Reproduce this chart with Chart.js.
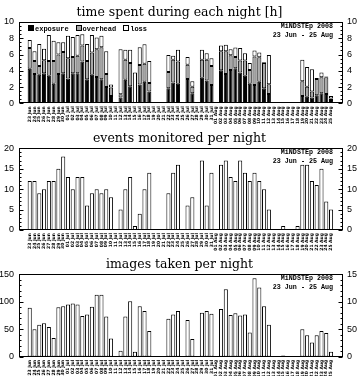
<!DOCTYPE html>
<html><head><meta charset="utf-8">
<script src="https://cdn.jsdelivr.net/npm/chart.js@4.4.1/dist/chart.umd.min.js"></script>
<style>
html,body{margin:0;padding:0;background:#fff;width:359px;height:376px;overflow:hidden}
.p{position:absolute;left:0;width:359px}
canvas{display:block}
</style></head><body>
<div class="p" style="top:0"><canvas id="c1" width="359" height="125"></canvas></div>
<div class="p" style="top:125px"><canvas id="c2" width="359" height="126"></canvas></div>
<div class="p" style="top:251px"><canvas id="c3" width="359" height="125"></canvas></div>
<script>
// ---- data ----
const nights = ["23 Jun","24 Jun","25 Jun","26 Jun","27 Jun","28 Jun","29 Jun","30 Jun",
"01 Jul","02 Jul","03 Jul","04 Jul","05 Jul","06 Jul","07 Jul","08 Jul","09 Jul","10 Jul","11 Jul","12 Jul",
"13 Jul","14 Jul","15 Jul","16 Jul","17 Jul","18 Jul","19 Jul","20 Jul","21 Jul","22 Jul","23 Jul","24 Jul",
"25 Jul","26 Jul","27 Jul","28 Jul","29 Jul","30 Jul","31 Jul",
"01 Aug","02 Aug","03 Aug","04 Aug","05 Aug","06 Aug","07 Aug","08 Aug","09 Aug","10 Aug","11 Aug","12 Aug",
"13 Aug","14 Aug","15 Aug","16 Aug","17 Aug","18 Aug","19 Aug","20 Aug","21 Aug","22 Aug","23 Aug","24 Aug","25 Aug"];

const exposureHours = [4.25,3.6,3.5,3.7,3.4,2.4,3.6,3.7,3.05,3.7,3.7,5.15,2.95,3.5,3.25,2.95,2.0,0.9,0,0.7,
2.9,2.1,0,2.3,2.65,1.45,0,0,0,1.85,2.55,2.4,0,3.0,1.25,0,3.15,2.8,2.25,0,
4.05,3.6,4.1,4.3,3.8,3.4,2.4,2.25,2.65,1.85,1.15,0,0,0.1,0,0,0,0.9,0.8,0.7,1.0,1.25,1.15,0.4];
const overheadHours = [2.55,1.6,1.1,1.6,1.8,2.8,2.4,2.6,2.5,2.0,2.15,1.95,2.25,2.75,3.4,3.95,1.6,1.05,0,0.4,
2.45,2.85,0,2.4,2.2,1.05,0,0,0,2.0,2.8,2.75,0,1.75,0.8,0,2.2,2.55,2.35,0,
2.35,2.8,1.8,1.4,1.45,1.85,1.7,3.5,3.0,3.1,1.2,0,0,0,0,0,0,1.8,1.25,0.75,2.0,1.95,2.05,0.2];
const lossHours = [1.0,1.2,2.7,1.4,3.2,2.5,1.5,1.2,2.75,2.45,2.55,1.4,2.1,2.15,1.45,1.4,2.8,0.35,0,5.55,
1.25,1.65,3.8,2.2,2.4,2.7,0,0,0,2.1,0.5,1.45,0,0.95,0.65,0,1.25,0.8,0.95,0,
0.7,0.8,0.75,1.15,1.55,0.9,0.85,0.75,0.6,0.1,3.6,0,0,0,0,0,0,2.65,2.4,2.75,0.1,0.6,0.1,0.3];
const eventsMonitored = [12,12,9,10,12,12,15,18,13,10,13,13,6,9,10,9,10,8,0,5,
10,13,1,4,10,14,0,0,0,9,14,16,0,6,8,0,17,6,14,0,
16,17,13,12,17,14,12,14,12,10,5,0,0,1,0,0,1,16,16,12,11,15,7,5];
const imagesTaken = [89,50,58,61,54,34,90,92,95,97,95,74,77,91,113,113,73,33,0,11,
73,101,9,92,83,47,0,0,0,69,77,83,0,67,32,0,80,83,78,0,
87,123,76,79,75,77,44,143,126,92,58,0,0,2,0,0,1,50,39,26,39,47,43,9];

const seriesNames = ["exposure","overhead","loss"];
const panelTitles = ["time spent during each night [h]","events monitored per night","images taken per night"];
const noteLines = ["MiNDSTEp 2008","23 Jun - 25 Aug"];

// ---- helpers ----
const XMIN = -2.24, XMAX = 65.5;
const pts = arr => arr.map((v,i)=>({x:i,y:v}));

const framePlugin = {
  id:'frame',
  afterDraw(chart){
    const {ctx, chartArea:a} = chart;
    const o = chart.options.plugins.frame;
    ctx.save();
    ctx.strokeStyle = '#000'; ctx.lineWidth = 1;
    const L = Math.round(a.left)+0.5, R = Math.round(a.right)-0.5, T = Math.round(a.top)+0.5, B = Math.round(a.bottom)-0.5;
    ctx.strokeRect(L, T, R-L, B-T);
    const ys = chart.scales.y;
    ctx.beginPath();
    for (let v = 0; v <= o.ymax + 1e-9; v += o.minor) {
      const isMajor = Math.abs(v/o.major - Math.round(v/o.major)) < 1e-6;
      const len = isMajor ? 4 : 2;
      const py = Math.round(ys.getPixelForValue(v)) + 0.5;
      ctx.moveTo(L, py); ctx.lineTo(L+len, py);
      ctx.moveTo(R, py); ctx.lineTo(R-len, py);
    }
    ctx.stroke();
    ctx.fillStyle = '#000';
    ctx.font = 'bold 6.7px "Liberation Mono"';
    ctx.textAlign = 'right'; ctx.textBaseline = 'alphabetic';
    ctx.fillText(noteLines[0], a.right - 10, a.top + 5.5);
    ctx.fillText(noteLines[1], a.right - 10, a.top + 14.5);
    if (o.legend) {
      ctx.textAlign = 'left';
      ctx.font = 'bold 7px "Liberation Mono"';
      let x = a.left + 9;
      chart.data.datasets.forEach(ds => {
        ctx.fillStyle = ds.backgroundColor;
        ctx.fillRect(Math.round(x)+0.5, Math.round(a.top)+3.5, 5, 5);
        ctx.strokeRect(Math.round(x)+0.5, Math.round(a.top)+3.5, 5, 5);
        ctx.fillStyle = '#000';
        ctx.fillText(ds.label, x + 7, a.top + 8.5);
        x += 7 + ctx.measureText(ds.label).width + 7;
      });
    }
    ctx.restore();
  }
};

function makeChart(id, datasets, o) {
  const tickFont = {family:'Liberation Sans', size:9};
  const tSize = 12.5;
  const noGrid = {display:false, drawTicks:false, tickLength:0};
  return new Chart(document.getElementById(id), {
    type:'bar',
    data:{datasets},
    options:{
      responsive:false, animation:false, events:[],
      layout:{padding:0},
      datasets:{bar:{categoryPercentage:1, barPercentage:0.86, borderWidth:1, borderColor:'#000', borderSkipped:false}},
      plugins:{
        legend:{display:false}, tooltip:{enabled:false},
        title:{display:true, text:o.title, color:'#000', align:'center',
          font:{family:'DejaVu Serif', size:tSize, lineHeight:1, weight:'normal'},
          padding:{top:o.titleTop, bottom:o.plotTop - o.titleTop - tSize}},
        frame:o
      },
      scales:{
        x:{type:'linear', stacked:true, min:XMIN, max:XMAX, offset:false,
          grid:noGrid, border:{display:false},
          ticks:{stepSize:1, autoSkip:false, includeBounds:false, maxTicksLimit:200,
            minRotation:90, maxRotation:90, padding:3, color:'#000',
            font:{family:'DejaVu Sans', size:4.5, weight:'bold'},
            callback:v => (Number.isInteger(v) && nights[v]) ? nights[v] : ''},
          afterFit:s=>{s.height = o.xh; s.paddingLeft = 0; s.paddingRight = 0;}},
        y:{stacked:true, min:0, max:o.ymax, position:'left',
          grid:noGrid, border:{display:false},
          ticks:{stepSize:o.major, padding:5, color:'#000', font:tickFont},
          afterFit:s=>{s.width = 19; s.paddingTop = 0; s.paddingBottom = 0;}},
        y2:{min:0, max:o.ymax, position:'right',
          grid:noGrid, border:{display:false},
          ticks:{stepSize:o.major, padding:4, color:'#000', font:tickFont,
            callback:v => String(v).slice(0,2)},
          afterFit:s=>{s.width = 16; s.paddingTop = 0; s.paddingBottom = 0;}}
      }
    },
    plugins:[framePlugin]
  });
}

makeChart('c1', [
  {label:seriesNames[0], data:pts(exposureHours), backgroundColor:'#000000'},
  {label:seriesNames[1], data:pts(overheadHours), backgroundColor:'#a6a6a6'},
  {label:seriesNames[2], data:pts(lossHours), backgroundColor:'#ffffff'}
], {title:panelTitles[0], titleTop:6, plotTop:22, xh:21.7, ymax:10, major:2, minor:0.5, legend:true});

makeChart('c2', [
  {label:'events', data:pts(eventsMonitored), backgroundColor:'#ffffff'}
], {title:panelTitles[1], titleTop:7, plotTop:23.3, xh:21, ymax:20, major:5, minor:1, legend:false});

makeChart('c3', [
  {label:'images', data:pts(imagesTaken), backgroundColor:'#ffffff'}
], {title:panelTitles[2], titleTop:7, plotTop:23.3, xh:19.3, ymax:150, major:50, minor:10, legend:false});
</script>
</body></html>
